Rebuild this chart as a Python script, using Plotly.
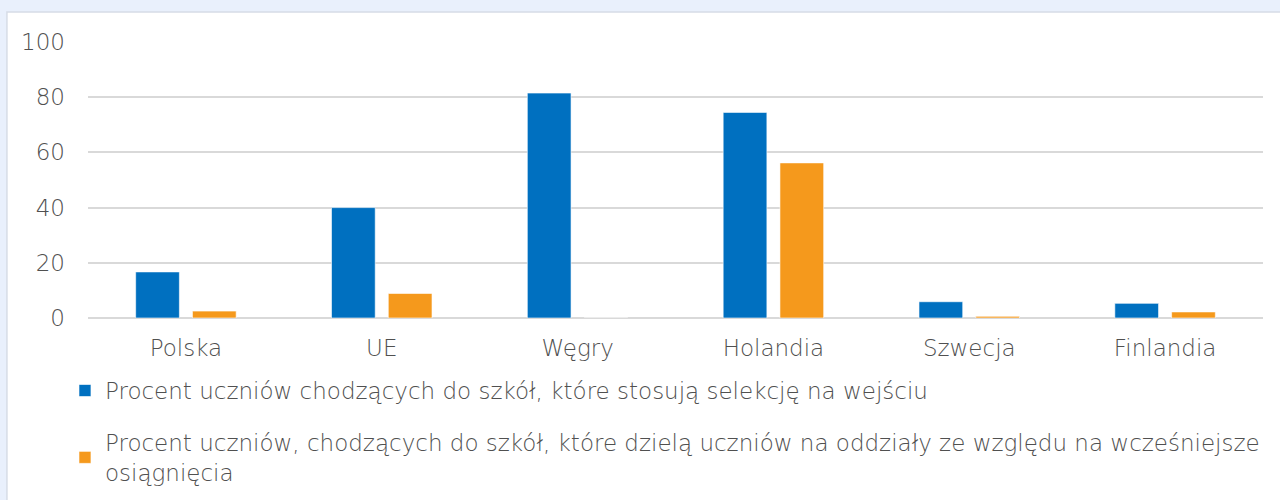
import plotly.graph_objects as go

# Categories and series values (percent of students)
countries = ["Polska", "UE", "Węgry", "Holandia", "Szwecja", "Finlandia"]
selection_at_entry = [16.7, 40.0, 81.5, 74.5, 5.9, 5.3]
ability_grouping = [2.5, 8.9, 0.0, 56.2, 0.6, 2.2]

series_names = [
    "Procent uczniów chodzących do szkół, które stosują selekcję na wejściu",
    "Procent uczniów, chodzących do szkół, które dzielą uczniów na oddziały ze względu na wcześniejsze<br>osiągnięcia",
]
y_ticks = [0, 20, 40, 60, 80, 100]

BLUE = "#0070C0"
ORANGE = "#F5991C"
TEXT = "#505050"
FONT = "DejaVu Sans"
SIZE = 23

fig = go.Figure()
fig.add_trace(go.Bar(
    x=countries, y=selection_at_entry, name=series_names[0],
    marker=dict(color=BLUE, line=dict(color="rgba(255,255,255,0.6)", width=1)),
    legendgroup="a",
))
fig.add_trace(go.Bar(
    x=countries, y=ability_grouping, name=series_names[1],
    marker=dict(color=ORANGE, line=dict(color="rgba(255,255,255,0.6)", width=1)),
    legendgroup="b",
))

# White card on a light-blue page
fig.add_shape(
    type="rect", xref="paper", yref="paper",
    x0=-0.069, x1=1.2, y0=-1.0, y1=1.109,
    fillcolor="white", line=dict(color="#D6DCE6", width=1.5), layer="below",
)

fig.update_layout(
    width=1280, height=500,
    margin=dict(l=88, r=17, t=42, b=182, autoexpand=False),
    paper_bgcolor="#E9F0FC",
    plot_bgcolor="rgba(0,0,0,0)",
    barmode="group", bargap=0.42, bargroupgap=0.23,
    font=dict(family=FONT, size=SIZE, color=TEXT, weight=300),
    showlegend=True,
    legend=dict(
        xref="paper", yref="paper", x=-0.0196, y=-0.185,
        xanchor="left", yanchor="top",
        orientation="v", traceorder="grouped", tracegroupgap=19,
        font=dict(family=FONT, size=SIZE, color=TEXT, weight=300),
        bgcolor="rgba(0,0,0,0)", itemwidth=30,
    ),
    xaxis=dict(
        showgrid=False, showline=False, ticks="",
        tickfont=dict(size=SIZE, color=TEXT, weight=300), ticklabelstandoff=14,
        tickangle=0,
    ),
    yaxis=dict(
        range=[0, 100], tickvals=y_ticks, showline=False, ticks="",
        gridcolor="#D9D9D9", gridwidth=1.5, zeroline=True,
        zerolinecolor="#D9D9D9", zerolinewidth=1.5,
        tickfont=dict(size=SIZE, color=TEXT, weight=300), ticklabelstandoff=22,
    ),
)

fig.write_html("out.html")
